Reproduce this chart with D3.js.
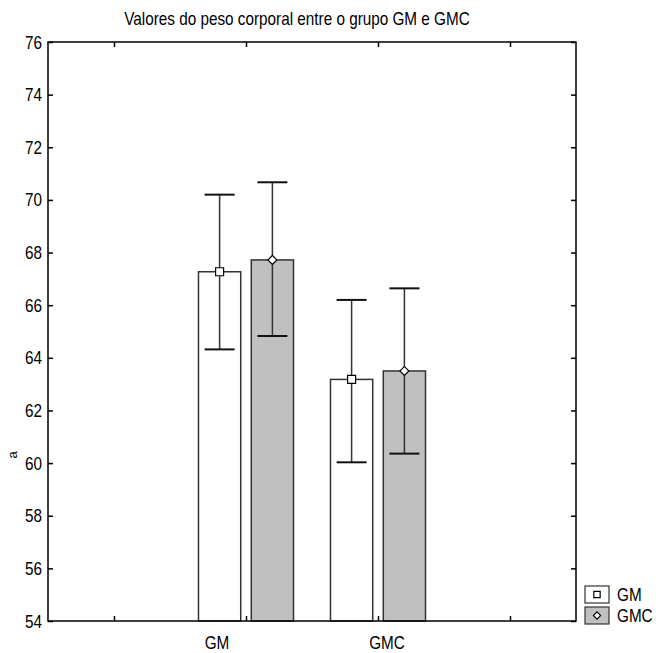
<!DOCTYPE html>
<html>
<head>
<script src="https://d3js.org/d3.v7.min.js"></script>
<style>
  body { margin: 0; background: #fff; }
  svg { font-family: "Liberation Sans", Arial, sans-serif; }
</style>
</head>
<body>
<div id="chart"></div>
<script>
// chart values
const categories = ["GM", "GMC"];
const seriesNames = ["GM", "GMC"];
const means = [[67.27, 67.72], [63.18, 63.50]];   // [category][series]
const lower = [[64.32, 64.83], [60.03, 60.36]];
const upper = [[70.20, 70.67], [66.20, 66.64]];
const yTicks = [54, 56, 58, 60, 62, 64, 66, 68, 70, 72, 74, 76];
const xTickPos = [1, 2, 3, 4];
const catPos = [2, 3];

const W = 656, H = 653;
const margin = {top: 42, right: 80, bottom: 32, left: 48};
const narrow = 0.85; // squeeze text to look like a narrow face

const svg = d3.select("#chart").append("svg")
  .attr("width", W).attr("height", H);

// text drawn through a horizontal squeeze
function label(px, py, str, size, anchor) {
  return svg.append("g")
    .attr("transform", "translate(" + px + "," + py + ") scale(" + narrow + ",1)")
    .append("text")
    .attr("text-anchor", anchor || "start")
    .attr("font-size", size).attr("fill", "#000")
    .text(str);
}

const x = d3.scaleLinear().domain([0.5, 4.5]).range([margin.left, W - margin.right]);
const y = d3.scaleLinear().domain([54, 76]).range([H - margin.bottom, margin.top]);

const fills = ["#ffffff", "#c0c0c0"];
const barW = 0.32, off = 0.2;

function marker(g, j, cx, cy, s) {
  g.append("path")
    .attr("d", d3.symbol().type(d3.symbolSquare).size(s)())
    .attr("transform", "translate(" + cx + "," + cy + ")" + (j === 1 ? " rotate(45)" : ""))
    .attr("fill", "#fff").attr("stroke", "#000").attr("stroke-width", 1.2);
}

// bars
categories.forEach(function(c, i) {
  seriesNames.forEach(function(s, j) {
    const cx = catPos[i] + (j === 0 ? -off : off);
    svg.append("rect")
      .attr("x", x(cx - barW / 2))
      .attr("y", y(means[i][j]))
      .attr("width", x(cx + barW / 2) - x(cx - barW / 2))
      .attr("height", y(54) - y(means[i][j]))
      .attr("fill", fills[j])
      .attr("stroke", "#333")
      .attr("stroke-width", 1.5);
  });
});

// error bars and markers
categories.forEach(function(c, i) {
  seriesNames.forEach(function(s, j) {
    const cx = x(catPos[i] + (j === 0 ? -off : off));
    svg.append("line")
      .attr("x1", cx).attr("x2", cx)
      .attr("y1", y(lower[i][j])).attr("y2", y(upper[i][j]))
      .attr("stroke", "#333").attr("stroke-width", 1.5);
    [lower[i][j], upper[i][j]].forEach(function(v) {
      svg.append("line")
        .attr("x1", cx - 15).attr("x2", cx + 15)
        .attr("y1", y(v)).attr("y2", y(v))
        .attr("stroke", "#111").attr("stroke-width", 2);
    });
    marker(svg, j, cx, y(means[i][j]), j === 0 ? 64 : 40);
  });
});

// frame with inward ticks
const x0 = x(0.5), x1 = x(4.5), yTop = y(76), yBot = y(54);
svg.append("rect")
  .attr("x", x0).attr("y", yTop)
  .attr("width", x1 - x0).attr("height", yBot - yTop)
  .attr("fill", "none").attr("stroke", "#000").attr("stroke-width", 1.5);

const axLeft = svg.append("g").attr("transform", "translate(" + x0 + ",0)")
  .call(d3.axisRight(y).tickValues(yTicks).tickSize(5).tickFormat(""));
const axRight = svg.append("g").attr("transform", "translate(" + x1 + ",0)")
  .call(d3.axisLeft(y).tickValues(yTicks).tickSize(5).tickFormat(""));
const axTop = svg.append("g").attr("transform", "translate(0," + yTop + ")")
  .call(d3.axisBottom(x).tickValues(xTickPos).tickSize(5).tickFormat(""));
const axBottom = svg.append("g").attr("transform", "translate(0," + yBot + ")")
  .call(d3.axisTop(x).tickValues(xTickPos).tickSize(5).tickFormat(""));
[axLeft, axRight, axTop, axBottom].forEach(function(g) {
  g.select(".domain").remove();
  g.selectAll("line").attr("stroke", "#000").attr("stroke-width", 1.5);
});

// y tick labels
yTicks.forEach(function(d) {
  label(x0 - 6, y(d) + 6.5, d, 18, "end");
});

// category labels
const labelDx = [-29, 9];
categories.forEach(function(c, i) {
  label(x(catPos[i]) + labelDx[i], yBot + 28, c, 18, "middle");
});

// title
label(297, 25, "Valores do peso corporal entre o grupo GM e GMC", 18, "middle");

// clipped y label remnant
svg.append("text")
  .attr("transform", "translate(17,455) rotate(-90)")
  .attr("text-anchor", "middle").attr("font-size", 13).attr("fill", "#000")
  .text("a");

// legend
const legend = svg.append("g").attr("transform", "translate(585,586)");
seriesNames.forEach(function(s, j) {
  const gy = j * 21;
  legend.append("rect")
    .attr("x", 0).attr("y", gy).attr("width", 24).attr("height", 17)
    .attr("fill", fills[j]).attr("stroke", "#333").attr("stroke-width", 1.2);
  marker(legend, j, 12, gy + 8.5, j === 0 ? 40 : 26);
  label(617, 586 + gy + 15, s, 18, "start");
});
</script>
</body>
</html>
